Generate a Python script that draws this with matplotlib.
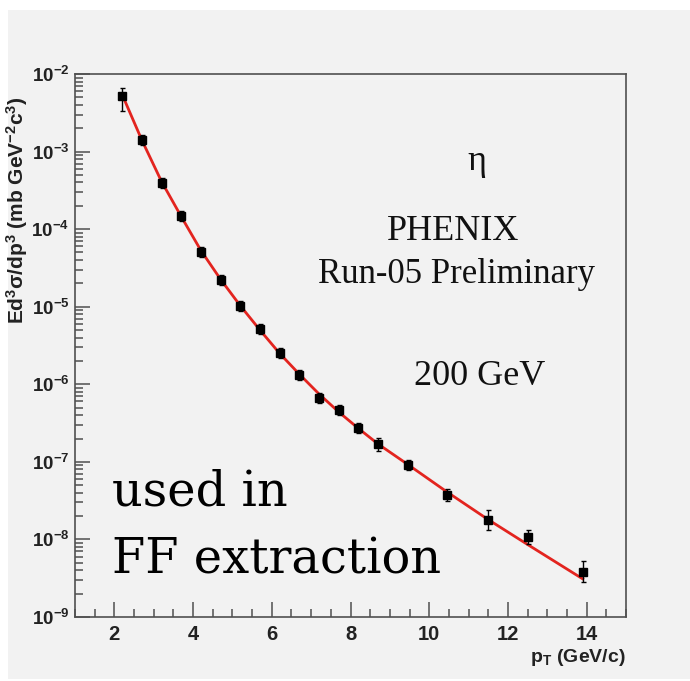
import matplotlib.pyplot as plt
import numpy as np
from matplotlib import font_manager
from matplotlib.patches import Rectangle
from matplotlib.ticker import LogLocator, MultipleLocator, NullFormatter, FixedLocator

# measured eta cross section points
pt = [2.2, 2.7, 3.2, 3.7, 4.2, 4.7, 5.2, 5.7, 6.2, 6.7, 7.2, 7.7, 8.2, 8.7, 9.45, 10.45, 11.5, 12.5, 13.9]
xsec = [5.2e-3, 1.41e-3, 3.97e-4, 1.49e-4, 5.1e-5, 2.2e-5, 1.03e-5, 5.1e-6, 2.5e-6, 1.32e-6,
        6.6e-7, 4.66e-7, 2.7e-7, 1.7e-7, 9.1e-8, 3.74e-8, 1.78e-8, 1.07e-8, 3.8e-9]
err_lo = [1.9e-3, 0.2e-3, 0.55e-4, 0.2e-4, 0.7e-5, 0.3e-5, 0.14e-5, 0.7e-6, 0.35e-6, 0.18e-6,
          0.9e-7, 0.65e-7, 0.37e-7, 0.3e-7, 1.3e-8, 0.6e-8, 0.46e-8, 0.2e-8, 1.0e-9]
err_hi = [1.35e-3, 0.23e-3, 0.64e-4, 0.24e-4, 0.8e-5, 0.35e-5, 0.16e-5, 0.8e-6, 0.4e-6, 0.21e-6,
          1.05e-7, 0.75e-7, 0.43e-7, 0.35e-7, 1.5e-8, 0.7e-8, 0.62e-8, 0.25e-8, 1.4e-9]

# fit curve
fit_pt = [2.2, 2.7, 3.2, 3.7, 4.2, 4.7, 5.2, 5.7, 6.2, 6.7, 7.2, 7.7, 8.2, 8.7, 9.45, 10.45, 11.5, 12.5, 13.9]
fit_val = [5.4e-3, 1.40e-3, 4.1e-4, 1.45e-4, 5.3e-5, 2.25e-5, 1.03e-5, 5.0e-6, 2.5e-6, 1.35e-6,
           7.5e-7, 4.4e-7, 2.7e-7, 1.7e-7, 9.3e-8, 4.1e-8, 1.8e-8, 8.6e-9, 3.1e-9]

ytick_vals = [1e-9, 1e-8, 1e-7, 1e-6, 1e-5, 1e-4, 1e-3, 1e-2]
ytick_labels = ['10$^{-9}$', '10$^{-8}$', '10$^{-7}$', '10$^{-6}$', '10$^{-5}$', '10$^{-4}$', '10$^{-3}$', '10$^{-2}$']
xtick_vals = [2, 4, 6, 8, 10, 12, 14]

names = {f.name for f in font_manager.fontManager.ttflist}
sans = 'Liberation Sans Narrow' if 'Liberation Sans Narrow' in names else 'Liberation Sans'
plt.rcParams['mathtext.fontset'] = 'custom'
plt.rcParams['mathtext.rm'] = sans + ':bold'
plt.rcParams['mathtext.it'] = sans + ':bold'
plt.rcParams['mathtext.bf'] = sans + ':bold'

W, H = 690, 681
fig = plt.figure(figsize=(W / 100, H / 100), dpi=100, facecolor='white')
fig.patches.append(Rectangle((8 / W, 2 / H), 1, 1 - 12 / H, transform=fig.transFigure,
                             facecolor='#f2f2f2', edgecolor='none', zorder=-10))

ax = fig.add_axes([75 / W, 1 - 617 / H, 551 / W, 543 / H])
ax.set_facecolor('#f2f2f2')
ax.set_yscale('log')
ax.set_xlim(1, 15)
ax.set_ylim(1e-9, 1e-2)

frame = '#505050'
for s in ax.spines.values():
    s.set_color(frame)
    s.set_linewidth(1.2)

ax.plot(fit_pt, fit_val, color='#e3241f', lw=2.0, zorder=2)
ax.errorbar(pt, xsec, yerr=[err_lo, err_hi], fmt='s', color='black', ms=6,
            elinewidth=1.0, capsize=1.8, capthick=1.0, zorder=3)

ax.xaxis.set_major_locator(FixedLocator(xtick_vals))
ax.xaxis.set_minor_locator(MultipleLocator(0.5))
ax.yaxis.set_major_locator(FixedLocator(ytick_vals))
ax.yaxis.set_minor_locator(LogLocator(base=10, subs=np.arange(2, 10)))
ax.yaxis.set_minor_formatter(NullFormatter())
ax.set_yticklabels(ytick_labels)
ax.set_xticklabels([str(v) for v in xtick_vals])

ax.tick_params(which='both', direction='in', color=frame, width=1.1, top=False, right=False)
ax.tick_params(which='major', length=11)
ax.tick_params(which='minor', length=5.5)
ax.tick_params(axis='y', which='major', pad=4, labelsize=13.5)
ax.tick_params(axis='x', which='major', pad=6, labelsize=14.5)
for lab in ax.get_xticklabels() + ax.get_yticklabels():
    lab.set_fontfamily(sans)
    lab.set_fontweight('bold')
    lab.set_color('#222222')

ax.set_ylabel('Ed$^3$σ/dp$^3$ (mb GeV$^{-2}$c$^3$)', family=[sans, 'DejaVu Sans'],
              fontweight='bold', fontsize=15, color='#222222')
ax.yaxis.set_label_coords(-0.082, 0.75)
ax.set_xlabel('p$_T$ (GeV/c)', family=sans, fontweight='bold', fontsize=14,
              color='#222222', loc='right', labelpad=2)


def fig_txt(x, y, s, **kw):
    fig.text(x / W, 1 - y / H, s, va='baseline', **kw)


serif = 'Liberation Serif'
fig_txt(477, 170, 'η', ha='center', family=serif, fontsize=26, color='#111111')
fig_txt(453, 240, 'PHENIX', ha='center', family=serif, fontsize=26, color='#111111')
fig_txt(457, 283, 'Run-05 Preliminary', ha='center', family=serif, fontsize=25, color='#111111')
fig_txt(480, 385, '200 GeV', ha='center', family=serif, fontsize=26, color='#111111')
fig_txt(112, 505, 'used in', ha='left', family='DejaVu Serif', fontsize=34.5, color='black')
fig_txt(112, 573, 'FF extraction', ha='left', family='DejaVu Serif', fontsize=34.5, color='black')

fig.savefig('out.png', dpi=100, facecolor=fig.get_facecolor())
